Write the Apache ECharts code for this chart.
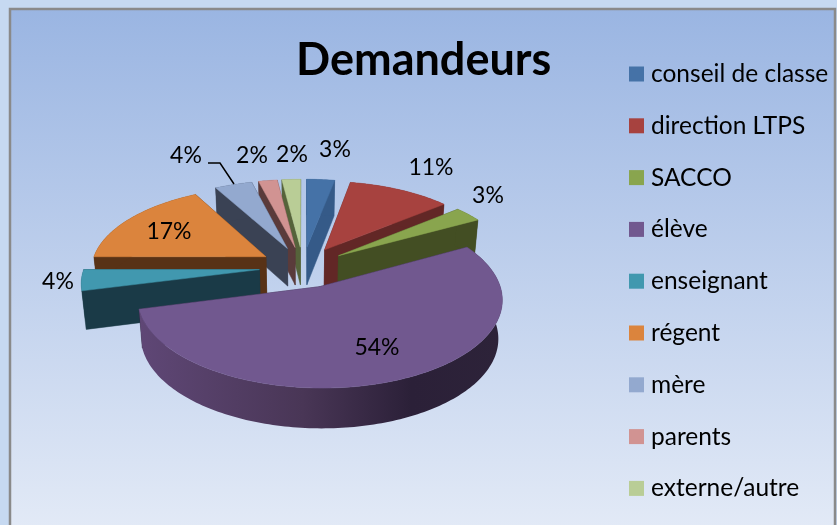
<!DOCTYPE html>
<html>
<head>
<meta charset="utf-8">
<style>html,body{margin:0;padding:0;background:#c6d9f1;overflow:hidden}#c{width:837px;height:525px}</style>
<script src="https://cdn.jsdelivr.net/npm/echarts@6/dist/echarts.min.js"></script>
</head>
<body>
<div id="c"></div>
<script>
const titleText = 'Demandeurs';
const categories = ['conseil de classe','direction LTPS','SACCO','élève','enseignant','régent','mère','parents','externe/autre'];
const values = [3,11,3,54,4,17,4,2,2];

// Styling and layout, separate from the data
const topColors  = ['#4572a7','#a7423f','#89a54e','#71588f','#4198af','#db843d','#93a9cf','#d19392','#b9cd96'];
const wallColors = ['#355a88','#622726','#434e23','#2f2440','#1a3a47','#583216','#3a4254','#5a3b3b','#55633a'];
const drawOrder  = [0,8,7,6,1,5,2,4,3];
const labelPos = [[335,150],[431,168],[488,196],[377,348],[58,282],[169,232],[186,156],[252,156],[292,155]];
const leader = [[208,163],[220,163],[234,184]];
const FONT = 'Lato, Carlito, "Open Sans", sans-serif';

// Projection of the exploded pie
const P = {cx:303, cy:267, A:175, a:82, b:0.134, h:38, explode:0.25};
const total = values.reduce((s,v)=>s+v,0);
const starts = values.map((_,i)=>values.slice(0,i).reduce((s,v)=>s+v,0));

function project(X,Y,low){
  const s = 1/(1+P.b*Y);
  const x = P.cx + P.A*X*s*(low?0.98:1);
  const y = P.cy - P.a*Y*s + (low? P.h*(1-0.05*Y):0);
  return [x,y];
}
function wedge(i,v){
  const a0 = starts[i]/total*2*Math.PI;
  const a1 = a0 + v/total*2*Math.PI;
  const mid = (a0+a1)/2;
  const ox = P.explode*Math.sin(mid), oy = P.explode*Math.cos(mid);
  const arc = [];
  const n = Math.max(4,Math.ceil((a1-a0)/0.02));
  for(let k=0;k<=n;k++){
    const t = a0+(a1-a0)*k/n;
    arc.push([ox+Math.sin(t),oy+Math.cos(t)]);
  }
  return {apex:[ox,oy],arc};
}
function makeRender(i){
  return function(params,api){
    const w = wedge(i,api.value(0));
    const topArc = w.arc.map(p=>project(p[0],p[1],false));
    const lowArc = w.arc.map(p=>project(p[0],p[1],true));
    const at = project(w.apex[0],w.apex[1],false);
    const al = project(w.apex[0],w.apex[1],true);
    const first = 0, last = topArc.length-1;
    const walls = [
      [at,topArc[first],lowArc[first],al],
      [at,topArc[last],lowArc[last],al]
    ].sort((p,q)=>(p[1][1]+p[2][1])-(q[1][1]+q[2][1]));
    const children = walls.map(points=>({
      type:'polygon',shape:{points},
      style:{fill:wallColors[i],stroke:wallColors[i],lineWidth:0.5}
    }));
    const rimFill = i===3
      ? new echarts.graphic.LinearGradient(0,0,1,0,[{offset:0,color:'#5f4776'},{offset:0.45,color:'#493656'},{offset:0.75,color:'#2b2038'},{offset:1,color:'#2d2339'}])
      : wallColors[i];
    children.push({type:'polygon',shape:{points:topArc.concat(lowArc.slice().reverse())},style:{fill:rimFill}});
    children.push({type:'polygon',shape:{points:[at].concat(topArc)},style:{fill:topColors[i],stroke:topColors[i],lineWidth:0.5}});
    return {type:'group',children};
  };
}

const sliceSeries = categories.map((name,i)=>({
  type:'custom',name,coordinateSystem:'none',silent:true,
  z:2+drawOrder.indexOf(i),
  itemStyle:{color:topColors[i]},
  data:[[values[i]]],
  renderItem:makeRender(i)
}));
const labelSeries = {
  type:'custom',name:'labels',coordinateSystem:'none',silent:true,z:20,
  data:values.map(v=>[v]),
  renderItem(params,api){
    const i = params.dataIndex;
    const children = [{
      type:'text',
      style:{text:api.value(0)+'%',x:labelPos[i][0],y:labelPos[i][1],fill:'#000',font:'23px '+FONT,align:'center',verticalAlign:'middle'}
    }];
    if(i===6) children.push({type:'polyline',shape:{points:leader},style:{stroke:'#000',lineWidth:1.5,fill:null}});
    return {type:'group',children};
  }
};

const chart = echarts.init(document.getElementById('c'),null,{renderer:'canvas',width:837,height:525});
chart.setOption({
  animation:false,
  backgroundColor:'#c6d9f1',
  title:{text:titleText,left:296,top:38,itemGap:0,padding:0,textStyle:{fontFamily:FONT,fontWeight:'bold',fontSize:45,color:'#000'}},
  legend:{
    data:categories,orient:'vertical',left:629,top:61.5,padding:0,
    icon:'rect',itemWidth:15,itemHeight:15,itemGap:26.8,selectedMode:false,
    textStyle:{fontFamily:FONT,fontSize:24.5,color:'#000',lineHeight:24,padding:[0,0,0,2]}
  },
  graphic:[{
    type:'rect',z:-10,silent:true,
    shape:{x:10,y:9,width:825,height:530},
    style:{
      fill:new echarts.graphic.LinearGradient(0,0,0,1,[{offset:0,color:'#9ab5e2'},{offset:1,color:'#e4ebf7'}]),
      stroke:'#8a8a8a',lineWidth:2.5
    }
  }],
  series:sliceSeries.concat([labelSeries])
});
</script>
</body>
</html>
